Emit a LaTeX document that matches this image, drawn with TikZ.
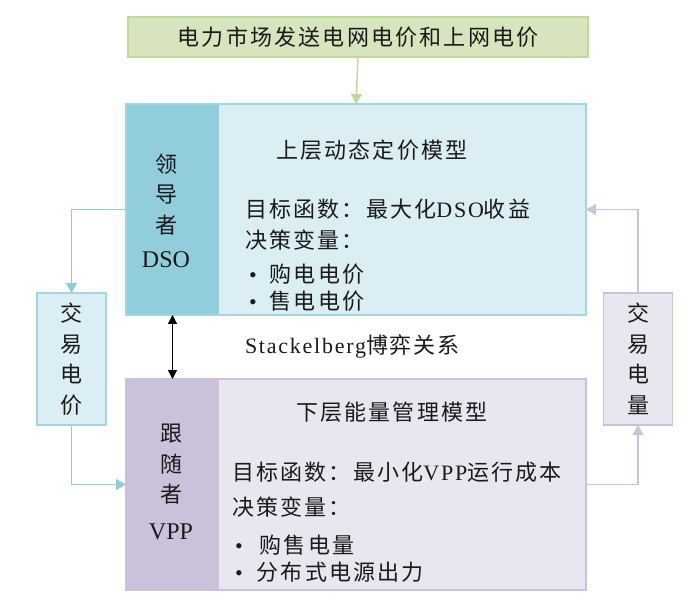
\documentclass[tikz,border=0pt]{standalone}
\usepackage{fontspec}
\setmainfont{Liberation Serif}
\newfontfamily\cjk{Noto Sans CJK SC}
\newfontfamily\cjkwide[LetterSpace=10]{Noto Sans CJK SC}
\newfontfamily\cjkhead[LetterSpace=10]{Noto Sans CJK SC}
\newfontfamily\cjkgame[LetterSpace=8]{Noto Sans CJK SC}
\newfontfamily\latwide[LetterSpace=8]{Liberation Serif}
\usetikzlibrary{arrows.meta}

\definecolor{ink}{HTML}{1A1A1A}
\definecolor{grfill}{HTML}{D7E4BD}
\definecolor{grline}{HTML}{C3D69B}
\definecolor{bldark}{HTML}{92CDDC}
\definecolor{blfill}{HTML}{DAEEF3}
\definecolor{blline}{HTML}{A3D5E2}
\definecolor{ppdark}{HTML}{CCC1DA}
\definecolor{ppfill}{HTML}{EAE6EF}
\definecolor{ppline}{HTML}{CCC1DA}

\newcommand\cjkbody{\fontsize{22}{26}\selectfont\cjkwide}
\newcommand\cjktitle{\fontsize{22}{26}\selectfont\cjkhead}
\newcommand\cjkcol{\fontsize{22}{30.5}\selectfont\cjk}
\newcommand\latn[1]{{\latwide #1}}
\newcommand\biglatn[1]{{\fontsize{24}{26}\selectfont\rmfamily #1}}
\newcommand\bul{{\rmfamily\textbullet}}

\begin{document}
\begin{tikzpicture}[x=1pt,y=-1pt,
  every node/.style={inner sep=0pt, outer sep=0pt, text=ink},
  box/.style={line width=1.4pt},
  txt/.style={anchor=west, font=\cjkbody},
  ttl/.style={anchor=west, font=\cjktitle},
  colbox/.style={line width=1.4pt, align=center, font=\cjkcol,
    minimum width=69pt, minimum height=132pt},
  tip/.style={-{Triangle[width=11pt,length=10pt]}},
  grarrow/.style={tip, draw=grline, line width=1.5pt},
  blarrow/.style={tip, draw=bldark, line width=1.5pt},
  pparrow/.style={tip, draw=ppline, line width=1.5pt},
  dblarrow/.style={{Triangle[width=9pt,length=9pt]}-{Triangle[width=9pt,length=9pt]},
    draw=black, line width=1.4pt},
]
\useasboundingbox (0,0) rectangle (693,609);

% market signal
\node[box, fill=grfill, draw=grline, minimum width=460pt, minimum height=40pt,
  font=\cjktitle] (mkt) at (358,37) {电力市场发送电网电价和上网电价};

% upper level: DSO pricing model
\node[fill=blfill, minimum width=460pt, minimum height=211pt] (upper) at (356,209.5) {};
\node[fill=bldark, minimum width=93pt, minimum height=211pt, anchor=north west]
  (dso) at (upper.north west) {};
\draw[box, draw=blline] (upper.north west) rectangle (upper.south east);
\node[align=center, font=\cjkcol] (dsolbl) at (166,211)
  {领\\导\\者\\[4pt]\biglatn{DSO}};
\node[ttl] (uptitle) at (276,150) {上层动态定价模型};
\node[txt] (upobj) at (245,209) {目标函数：最大化\latn{DSO}收益};
\node[txt] (upvar) at (245,240) {决策变量：};
\node[txt] (upb1) at (249,274) {\bul\hspace{13pt}购电电价};
\node[txt] (upb2) at (249,301) {\bul\hspace{13pt}售电电价};

% lower level: VPP energy management model
\node[fill=ppfill, minimum width=460pt, minimum height=211pt] (lower) at (356,484.5) {};
\node[fill=ppdark, minimum width=93pt, minimum height=211pt, anchor=north west]
  (vpp) at (lower.north west) {};
\draw[box, draw=ppline] (lower.north west) rectangle (lower.south east);
\node[align=center, font=\cjkcol] (vpplbl) at (171,482)
  {跟\\随\\者\\[6pt]\biglatn{VPP}};
\node[ttl] (lowtitle) at (296,412) {下层能量管理模型};
\node[txt] (lowobj) at (232,472) {目标函数：最小化\latn{VPP}运行成本};
\node[txt] (lowvar) at (232,507) {决策变量：};
\node[txt] (lowb1) at (235,545) {\bul\hspace{17pt}购售电量};
\node[txt] (lowb2) at (235,572) {\bul\hspace{14pt}分布式电源出力};

% game relation
\draw[dblarrow] (dso.south) -- (vpp.north);
\node[anchor=west, font={\fontsize{22}{26}\selectfont}] (game) at (245,347)
  {\latwide Stackelberg\cjkgame 博弈关系};

% exchanged price and quantity
\node[colbox, fill=blfill, draw=blline] (price) at (71.5,359) {交\\易\\电\\价};
\node[colbox, fill=ppfill, draw=ppline] (qty) at (638,359) {交\\易\\电\\量};

% connectors
\draw[grarrow] (mkt.south) -- (upper.north);
\draw[blarrow] (dso.west) -| (price.north);
\draw[blarrow] (price.south) |- (vpp.west);
\draw[pparrow] (lower.east) -| (qty.south);
\draw[pparrow] (qty.north) |- (upper.east);
\end{tikzpicture}
\end{document}
